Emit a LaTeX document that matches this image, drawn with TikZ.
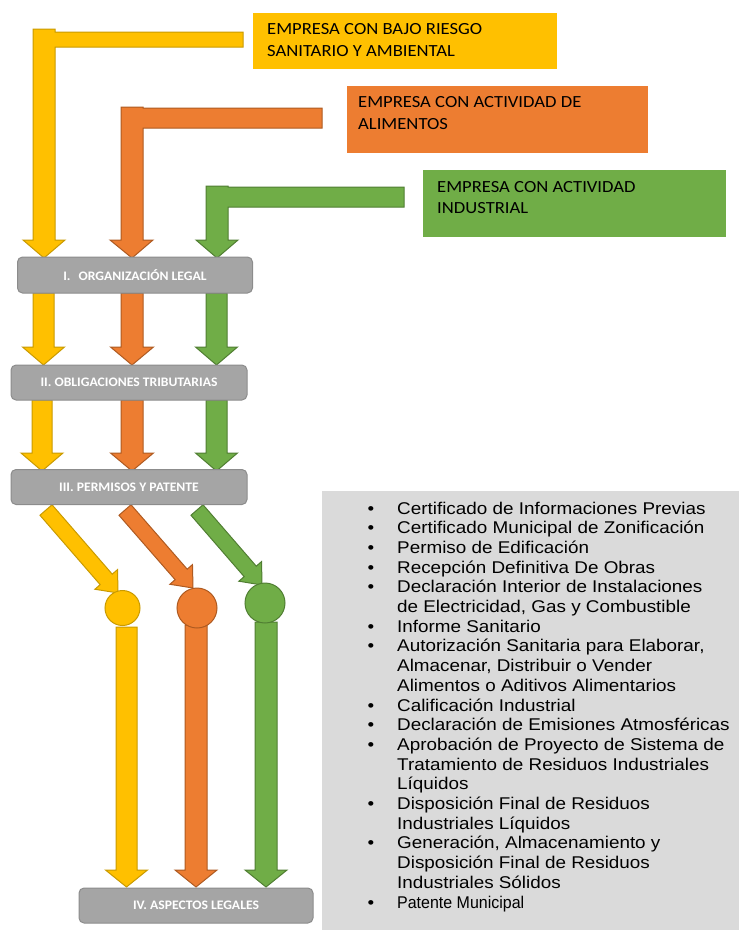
\documentclass[tikz,border=0pt]{standalone}
\usepackage{fontspec}
\setmainfont{Carlito}
\newfontfamily\hdrfont[FakeStretch=1.095]{Carlito}
\newfontfamily\lblfont[FakeStretch=1.05]{Carlito}
\newfontfamily\listfont[FakeStretch=1.11]{Liberation Sans}
\newfontfamily\listfontc[FakeStretch=0.94]{Liberation Sans}
\usetikzlibrary{calc}
\definecolor{yel}{HTML}{FFC000}
\definecolor{yelD}{HTML}{C99A00}
\definecolor{ora}{HTML}{ED7D31}
\definecolor{oraD}{HTML}{AE5A21}
\definecolor{grn}{HTML}{70AD47}
\definecolor{grnD}{HTML}{507E32}
\definecolor{boxgray}{HTML}{A5A5A5}
\definecolor{boxgrayD}{HTML}{8C8C8C}
\definecolor{panelgray}{HTML}{DADADA}
\newcommand\fatarr[6]{%
  \coordinate (fa-hb) at ($(#3)!#6!(#2)$);
  \draw[#1] ($(#2)!#4!90:(#3)$) -- ($(fa-hb)!#4!-90:(#2)$) -- ($(fa-hb)!#5!-90:(#2)$) -- (#3) -- ($(fa-hb)!#5!90:(#2)$) -- ($(fa-hb)!#4!90:(#2)$) -- ($(#2)!#4!-90:(#3)$) -- cycle;}
\newcommand\bul{\llap{\textbullet\hspace{23pt}}}
\tikzset{
  ya/.style={fill=yel, draw=yelD, line width=1pt},
  oa/.style={fill=ora, draw=oraD, line width=1pt},
  ga/.style={fill=grn, draw=grnD, line width=1pt},
  graybox/.style={rectangle, rounded corners=5pt, fill=boxgray, draw=boxgrayD, line width=1pt, text=white, inner sep=0, font={\lblfont\bfseries\fontsize{13}{15}\selectfont}},
  hdrbox/.style={rectangle, inner sep=0, anchor=north west},
  hdrtext/.style={anchor=base west, inner sep=0, font={\hdrfont\fontsize{17}{21.7}\selectfont}},
}
\begin{document}
\begin{tikzpicture}[x=1pt,y=-1pt]
\useasboundingbox (0,0) rectangle (739,930);
% list panel
\node[fill=panelgray, inner sep=0, anchor=north west, minimum width=417pt, minimum height=439pt] (panel) at (322,491) {};
% L-shaped arrows from the headers
\draw[ya] (33,29) -- (55,29) -- (55,32) -- (243,32) -- (243,47) -- (55,47) -- (55,240) -- (65,240) -- (44,258) -- (23,240) -- (33,240) -- cycle;
\draw[oa] (121,107) -- (143,107) -- (143,108) -- (322,108) -- (322,128) -- (143,128) -- (143,240) -- (153,240) -- (132,258) -- (110,240) -- (121,240) -- cycle;
\draw[ga] (206,186) -- (228,186) -- (228,187) -- (404,187) -- (404,207) -- (228,207) -- (228,240) -- (238,240) -- (217,258) -- (196,240) -- (206,240) -- cycle;
% header boxes
\node[hdrbox, fill=yel, minimum width=304pt, minimum height=56pt] (h1) at (253,13) {};
\node[hdrbox, fill=ora, minimum width=301pt, minimum height=67pt] (h2) at (347,86) {};
\node[hdrbox, fill=grn, minimum width=303pt, minimum height=67pt] (h3) at (423,170) {};
\node[hdrtext] (t1) at (267,34.5) {\vtop{\hbox{EMPRESA CON BAJO RIESGO}\hbox{SANITARIO Y AMBIENTAL}}};
\node[hdrtext] (t2) at (358,107.5) {\vtop{\hbox{EMPRESA CON ACTIVIDAD DE}\hbox{ALIMENTOS}}};
\node[hdrtext] (t3) at (437,192) {\vtop{\hbox{EMPRESA CON ACTIVIDAD}\hbox{INDUSTRIAL}}};
% arrow coordinates
\coordinate (a1) at (43.5,293);  \coordinate (b1) at (43.5,365);
\coordinate (a2) at (132,293);   \coordinate (b2) at (132,365);
\coordinate (a3) at (216.5,293); \coordinate (b3) at (216.5,365);
\coordinate (c1) at (42,400);    \coordinate (d1) at (42,471);
\coordinate (c2) at (132,400);   \coordinate (d2) at (132,471);
\coordinate (c3) at (216.5,400); \coordinate (d3) at (216.5,471);
\coordinate (e1) at (46,510);    \coordinate (f1) at (118,593);
\coordinate (e2) at (125,510);   \coordinate (f2) at (193,588);
\coordinate (e3) at (197,510);   \coordinate (f3) at (262,585);
\coordinate (g1) at (126.5,627); \coordinate (k1) at (126.5,887);
\coordinate (g2) at (196,625);   \coordinate (k2) at (196,887);
\coordinate (g3) at (266,622);   \coordinate (k3) at (266,887);
\fatarr{ya}{a1}{b1}{10.5pt}{21pt}{18pt}
\fatarr{oa}{a2}{b2}{11pt}{21.5pt}{18pt}
\fatarr{ga}{a3}{b3}{10.5pt}{21pt}{18pt}
\fatarr{ya}{c1}{d1}{10pt}{21pt}{18pt}
\fatarr{oa}{c2}{d2}{11pt}{21.5pt}{18pt}
\fatarr{ga}{c3}{d3}{10.5pt}{21pt}{18pt}
\fatarr{ya}{e1}{f1}{8pt}{15pt}{18pt}
\fatarr{oa}{e2}{f2}{8pt}{15pt}{18pt}
\fatarr{ga}{e3}{f3}{8pt}{15pt}{18pt}
\fatarr{ya}{g1}{k1}{10.5pt}{21pt}{17pt}
\fatarr{oa}{g2}{k2}{11pt}{21pt}{17pt}
\fatarr{ga}{g3}{k3}{11pt}{21pt}{17pt}
% circles
\node[circle, ya, minimum size=35pt, inner sep=0] (cy) at (122.5,608) {};
\node[circle, oa, minimum size=40pt, inner sep=0] (co) at (197,608) {};
\node[circle, ga, minimum size=40pt, inner sep=0] (cg) at (265,603) {};
% gray stage boxes
\node[graybox, minimum width=235pt, minimum height=36pt] (s1) at (135,275) {I.\hspace{8pt}ORGANIZACIÓN LEGAL};
\node[graybox, minimum width=236pt, minimum height=35pt] (s2) at (129,382.5) {II. OBLIGACIONES TRIBUTARIAS};
\node[graybox, minimum width=236pt, minimum height=35pt] (s3) at (129,487) {III. PERMISOS Y PATENTE};
\node[graybox, minimum width=234pt, minimum height=35pt] (s4) at (196,905.5) {IV. ASPECTOS LEGALES};
% list
\node[anchor=base west, inner sep=0, font={\listfont\fontsize{17}{19.7}\selectfont}] (list) at (397,514) {\vtop{%
\hbox{\bul Certificado de Informaciones Previas}
\hbox{\bul Certificado Municipal de Zonificación}
\hbox{\bul Permiso de Edificación}
\hbox{\bul Recepción Definitiva De Obras}
\hbox{\bul Declaración Interior de Instalaciones}
\hbox{de Electricidad, Gas y Combustible}
\hbox{\bul Informe Sanitario}
\hbox{\bul Autorización Sanitaria para Elaborar,}
\hbox{Almacenar, Distribuir o Vender}
\hbox{Alimentos o Aditivos Alimentarios}
\hbox{\bul Calificación Industrial}
\hbox{\bul Declaración de Emisiones Atmosféricas}
\hbox{\bul Aprobación de Proyecto de Sistema de}
\hbox{Tratamiento de Residuos Industriales}
\hbox{Líquidos}
\hbox{\bul Disposición Final de Residuos}
\hbox{Industriales Líquidos}
\hbox{\bul Generación, Almacenamiento y}
\hbox{Disposición Final de Residuos}
\hbox{Industriales Sólidos}
\hbox{\bul\listfontc Patente Municipal}}};
\end{tikzpicture}
\end{document}
